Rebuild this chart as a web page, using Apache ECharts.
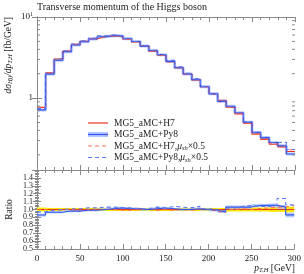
<!DOCTYPE html>
<html><head><meta charset="utf-8">
<script src="https://cdn.jsdelivr.net/npm/echarts@6/dist/echarts.min.js"></script>
<style>html,body{margin:0;padding:0;background:#fff}#c{width:304px;height:274px}</style>
</head><body><div id="c"></div>
<script>
// ---- data ----
const binEdges = [0,10,20,30,40,50,60,70,80,90,100,110,120,130,140,150,160,170,180,190,200,210,220,230,240,250,260,270,280,290,300];
const mgH7 = [0.77,2.05,3.03,3.8,4.6,5.0,5.4,5.7,5.85,5.7,5.35,4.93,4.38,3.8,3.37,2.81,2.37,1.98,1.67,1.38,1.14,0.94,0.77,0.64,0.49,0.36,0.31,0.27,0.25,0.22];
const mgPy8 = [0.716,1.978,2.924,3.724,4.508,4.95,5.346,5.7,5.909,5.814,5.404,4.979,4.38,3.838,3.437,2.838,2.37,1.98,1.687,1.38,1.129,0.912,0.793,0.659,0.505,0.378,0.326,0.284,0.258,0.205];
const mgH7Half = [0.77,2.03,3.03,3.8,4.554,5.0,5.4,5.7,5.85,5.643,5.297,4.93,4.38,3.762,3.37,2.782,2.37,1.96,1.67,1.38,1.117,0.902,0.77,0.646,0.49,0.364,0.316,0.278,0.258,0.231];
const mgPy8Half = [0.747,2.03,3.03,3.838,4.646,5.1,5.508,5.871,6.026,5.814,5.457,4.979,4.424,3.914,3.437,2.922,2.441,2.02,1.737,1.394,1.14,0.921,0.785,0.666,0.515,0.374,0.322,0.284,0.285,0.233];
const relErrH7 = [0.025,0.02,0.02,0.02,0.02,0.02,0.02,0.02,0.02,0.02,0.02,0.02,0.02,0.02,0.02,0.02,0.02,0.02,0.02,0.02,0.02,0.02,0.025,0.025,0.025,0.025,0.025,0.03,0.03,0.035];
const relErrPy8 = [0.02,0.015,0.015,0.015,0.015,0.015,0.015,0.015,0.015,0.015,0.015,0.015,0.015,0.015,0.015,0.015,0.015,0.015,0.015,0.015,0.015,0.015,0.02,0.02,0.02,0.02,0.02,0.025,0.025,0.03];
const logMinorTicks = [0.2,0.3,0.4,0.5,0.6,0.7,0.8,0.9,2,3,4,5,6,7,8,9];
const legendLabels = ['MG5_aMC+H7','MG5_aMC+Py8','MG5_aMC+H7,{i|μ}{s|sh}×0.5','MG5_aMC+Py8,{i|μ}{s|sh}×0.5'];
const titleText = 'Transverse momentum of the Higgs boson';

// ---- helpers ----
const FONT = 'Liberation Serif';
const GREY = '#8a8a8a';
const RED = '#ee3322', BLUE = '#3355ee', RED2 = '#ff6a55', BLUE2 = '#5a7bf0', LBLUE = '#b4c6ff', YEL = '#f7e800';
function stepData(vals){ return binEdges.map((x,i)=>[x, vals[Math.min(i, vals.length-1)]]); }
function ratio(vals){ return vals.map((v,i)=>v/mgH7[i]); }
function bandData(center, err){ return center.map((c,i)=>[binEdges[i], binEdges[i+1], c-err[i], c+err[i]]); }

const ones = mgH7.map(()=>1);

function xAx(grid, pos, labels){
  return {type:'value', gridIndex:grid, position:pos, min:0, max:300, interval:50,
    axisLine:{show:true, onZero:false, lineStyle:{color:GREY, width:1}},
    axisTick:{show:true, inside:true, length:5, lineStyle:{color:GREY}},
    minorTick:{show:true, splitNumber:5, length:3, lineStyle:{color:GREY}},
    splitLine:{show:false}, minorSplitLine:{show:false},
    axisLabel:{show:labels, fontFamily:FONT, fontSize:9, color:'#222', margin:5}};
}
function logAx(pos, labels){
  return {type:'log', logBase:10, gridIndex:0, position:pos, min:0.13, max:10,
    axisLine:{show:true, lineStyle:{color:GREY, width:1}},
    axisTick:{show:true, inside:true, length:5, lineStyle:{color:GREY}},
    splitLine:{show:false},
    axisLabel:{show:labels, showMinLabel:false, fontFamily:FONT, fontSize:9, color:'#222', margin:4,
      formatter:v=> Math.abs(v-10)<1e-6 ? '10{sup|1}' : (Math.abs(v-1)<1e-6 ? '1' : ''),
      rich:{sup:{fontSize:6, fontFamily:FONT, color:'#222', padding:[0,0,6,0]}}}};
}
function ratAx(pos, labels){
  return {type:'value', gridIndex:1, position:pos, min:0.5, max:1.5, interval:0.1,
    axisLine:{show:true, lineStyle:{color:GREY, width:1}},
    axisTick:{show:true, inside:true, length:4, lineStyle:{color:GREY}},
    minorTick:{show:true, splitNumber:5, length:2, lineStyle:{color:GREY}},
    splitLine:{show:false},
    axisLabel:{show:labels, fontFamily:FONT, fontSize:8, color:'#222', margin:4,
      formatter:v=> v>1.45 ? '' : v.toFixed(1)}};
}
function stepLine(name, vals, xi, yi, color, dashed, width, z){
  return {name, type:'line', xAxisIndex:xi, yAxisIndex:yi, step:'end', data:stepData(vals),
    showSymbol:false, symbol:'none', z:z||2, animation:false, silent:true,
    lineStyle:{color, width:width||1.1, type: dashed ? [4,3] : 'solid'}};
}
function bandSeries(data, color, z){
  return {type:'custom', xAxisIndex:2, yAxisIndex:2, data, z:z||1, animation:false, silent:true,
    encode:{x:[0,1], y:[2,3]},
    renderItem:(params, api)=>{
      const a = api.coord([api.value(0), api.value(3)]);
      const b = api.coord([api.value(1), api.value(2)]);
      return {type:'rect', shape:{x:a[0], y:a[1], width:b[0]-a[0], height:b[1]-a[1]}, style:{fill:color}};
    }};
}
const minorTickSeries = {type:'custom', xAxisIndex:0, yAxisIndex:0, data:logMinorTicks.map(v=>[0,v]),
  encode:{x:0, y:1}, z:5, animation:false, silent:true, clip:false,
  renderItem:(params, api)=>{
    const p = api.coord([0, api.value(1)]);
    const q = api.coord([300, api.value(1)]);
    return {type:'group', children:[
      {type:'line', shape:{x1:p[0], y1:p[1], x2:p[0]+3, y2:p[1]}, style:{stroke:GREY, lineWidth:1}},
      {type:'line', shape:{x1:q[0]-3, y1:q[1], x2:q[0], y2:q[1]}, style:{stroke:GREY, lineWidth:1}}]};
  }};

// legend graphics
const legY = [123, 134.5, 146, 157.5];
const legStyle = [{c:RED, d:false},{c:BLUE, d:false, band:true},{c:RED2, d:true},{c:BLUE2, d:true}];
const graphics = [];
legY.forEach((y,i)=>{
  const s = legStyle[i];
  if (s.band) graphics.push({type:'rect', shape:{x:88, y:y-2.5, width:20, height:5}, style:{fill:LBLUE}});
  graphics.push({type:'line', shape:{x1:88, y1:y, x2:108, y2:y}, style:{stroke:s.c, lineWidth:1.2, lineDash: s.d ? [4,3] : null}});
  graphics.push({type:'text', x:114, y:y, style:{text:legendLabels[i], font:'9.5px "Liberation Serif"', fill:'#222', verticalAlign:'middle',
    rich:{i:{fontFamily:FONT, fontSize:9.5, fontStyle:'italic', fill:'#222'}, s:{fontFamily:FONT, fontSize:6.5, fontStyle:'italic', fill:'#222', padding:[5,0,0,0]}}}});
});
graphics.push({type:'text', x:37, y:7.5, style:{text:titleText, font:'10px "Liberation Serif"', fill:'#222', verticalAlign:'middle'}});
graphics.push({type:'text', x:8, y:17, rotation:Math.PI/2, style:{
  text:'{i|dσ}{s|Hjj}{i|/dp}{s|T,H} [fb/GeV]', font:'9.5px "Liberation Serif"', fill:'#222', align:'right', verticalAlign:'middle',
  rich:{i:{fontFamily:FONT, fontSize:9.5, fontStyle:'italic', fill:'#222'}, s:{fontFamily:FONT, fontSize:6.5, fontStyle:'italic', fill:'#222', padding:[5,0,0,0]}}}});
graphics.push({type:'text', x:9, y:209.5, rotation:Math.PI/2, style:{text:'Ratio', font:'9.5px "Liberation Serif"', fill:'#222', align:'center', verticalAlign:'middle'}});
graphics.push({type:'text', x:295, y:268, style:{text:'{i|p}{s|T,H} [GeV]', font:'9.5px "Liberation Serif"', fill:'#222', align:'right', verticalAlign:'middle',
  rich:{i:{fontFamily:FONT, fontSize:9.5, fontStyle:'italic', fill:'#222'}, s:{fontFamily:FONT, fontSize:6.5, fontStyle:'italic', fill:'#222', padding:[5,0,0,0]}}}});

const chart = echarts.init(document.getElementById('c'), null, {renderer:'canvas'});
chart.setOption({
  animation:false,
  backgroundColor:'#fff',
  grid:[{left:37, top:17, width:258, height:153}, {left:37, top:170, width:258, height:79}],
  xAxis:[xAx(0,'bottom',false), xAx(0,'top',false), xAx(1,'bottom',true), xAx(1,'top',false)],
  yAxis:[logAx('left',true), logAx('right',false), ratAx('left',true), ratAx('right',false)],
  graphic:graphics,
  series:[
    stepLine('band', mgPy8, 0, 0, LBLUE, false, 3, 1),
    stepLine('MG5_aMC+H7', mgH7, 0, 0, RED, false, 1.1, 2),
    stepLine('MG5_aMC+H7 half', mgH7Half, 0, 0, RED2, true, 1.1, 3),
    stepLine('MG5_aMC+Py8', mgPy8, 0, 0, BLUE, false, 1.1, 4),
    stepLine('MG5_aMC+Py8 half', mgPy8Half, 0, 0, BLUE2, true, 1.1, 5),
    minorTickSeries,
    bandSeries(bandData(ones, relErrH7), YEL, 1),
    bandSeries(bandData(ratio(mgPy8), relErrPy8), 'rgba(160,188,255,0.75)', 1),
    stepLine('r H7', ratio(mgH7), 2, 2, RED, false, 1.1, 2),
    stepLine('r H7 half', ratio(mgH7Half), 2, 2, RED2, true, 1.1, 3),
    stepLine('r Py8', ratio(mgPy8), 2, 2, BLUE, false, 1.1, 4),
    stepLine('r Py8 half', ratio(mgPy8Half), 2, 2, BLUE2, true, 1.1, 5)
  ]
});
</script></body></html>
